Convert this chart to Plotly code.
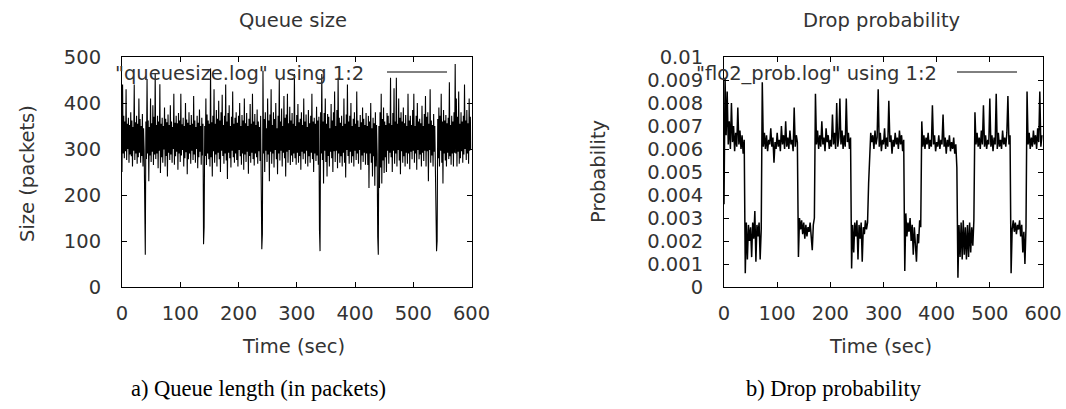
import plotly.graph_objects as go

W, H = 1066, 409

# ---- data ----
# queue log sampled every 1 s
time_q = list(range(0, 600))
queue_size = [
    250, 440, 290, 372, 280, 360, 295, 430, 276, 355,
    300, 368, 270, 352, 288, 380, 284, 362, 262, 348,
    296, 440, 276, 358, 290, 372, 268, 355, 282, 410,
    292, 365, 270, 350, 285, 376, 262, 345, 300, 120,
    70, 360, 278, 452, 290, 362, 230, 348, 286, 410,
    272, 356, 294, 395, 265, 370, 288, 463, 278, 352,
    290, 372, 258, 360, 296, 441, 248, 355, 282, 368,
    270, 350, 299, 390, 262, 366, 285, 358, 240, 375,
    292, 352, 276, 395, 288, 360, 270, 348, 300, 420,
    266, 357, 284, 372, 294, 356, 255, 378, 290, 362,
    272, 420, 286, 354, 298, 368, 262, 350, 280, 400,
    293, 364, 245, 357, 278, 380, 290, 352, 268, 374,
    296, 355, 276, 415, 288, 362, 270, 348, 300, 372,
    258, 357, 282, 386, 294, 350, 266, 368, 286, 355,
    93, 130, 350, 285, 410, 265, 375, 290, 362, 278,
    355, 262, 475, 282, 358, 240, 372, 295, 430, 270,
    355, 288, 385, 262, 366, 292, 405, 278, 362, 250,
    380, 296, 418, 285, 352, 268, 372, 290, 440, 275,
    360, 235, 378, 292, 395, 280, 350, 260, 370, 296,
    425, 282, 355, 270, 368, 290, 380, 276, 357, 262,
    372, 298, 400, 284, 350, 266, 374, 290, 362, 255,
    410, 288, 356, 272, 378, 294, 350, 246, 366, 285,
    398, 270, 355, 292, 420, 278, 360, 264, 376, 290,
    352, 282, 386, 268, 360, 295, 348, 274, 372, 200,
    82, 115, 470, 290, 365, 250, 380, 296, 345, 272,
    410, 288, 362, 230, 375, 294, 430, 268, 352, 290,
    380, 260, 365, 298, 400, 278, 345, 245, 372, 290,
    450, 275, 360, 296, 388, 262, 350, 292, 415, 280,
    368, 240, 375, 294, 420, 270, 356, 298, 392, 265,
    362, 286, 378, 272, 355, 290, 463, 280, 350, 266,
    374, 292, 398, 270, 358, 285, 366, 255, 380, 294,
    352, 278, 410, 290, 360, 268, 375, 296, 348, 262,
    385, 284, 356, 270, 372, 292, 420, 278, 360, 250,
    368, 290, 355, 274, 392, 286, 362, 266, 370, 125,
    78, 380, 290, 463, 276, 360, 225, 378, 296, 410,
    272, 355, 240, 376, 285, 370, 262, 345, 294, 398,
    280, 362, 250, 380, 295, 425, 272, 350, 296, 385,
    258, 455, 290, 368, 270, 357, 284, 372, 262, 350,
    292, 410, 270, 355, 238, 375, 298, 440, 285, 360,
    268, 372, 294, 400, 270, 350, 284, 366, 262, 380,
    296, 355, 276, 425, 290, 362, 268, 348, 298, 374,
    255, 358, 286, 390, 272, 366, 292, 352, 266, 378,
    290, 350, 265, 372, 215, 360, 290, 400, 270, 345,
    240, 368, 284, 356, 220, 380, 262, 352, 290, 110,
    70, 350, 215, 380, 260, 420, 225, 365, 275, 390,
    248, 360, 282, 352, 250, 378, 296, 372, 268, 356,
    292, 455, 282, 352, 250, 378, 296, 432, 268, 360,
    290, 455, 262, 355, 298, 410, 275, 368, 245, 380,
    295, 360, 270, 390, 284, 356, 262, 374, 292, 350,
    268, 420, 290, 362, 256, 372, 294, 352, 278, 385,
    296, 420, 270, 350, 290, 372, 255, 400, 298, 360,
    278, 366, 288, 356, 262, 394, 292, 350, 274, 376,
    296, 415, 262, 370, 295, 380, 230, 355, 298, 430,
    270, 362, 286, 352, 262, 376, 294, 350, 268, 200,
    78, 100, 365, 280, 390, 262, 372, 296, 420, 270,
    360, 225, 385, 290, 362, 275, 374, 262, 356, 292,
    368, 278, 445, 284, 352, 266, 372, 290, 360, 262,
    380, 292, 485, 290, 410, 262, 370, 294, 425, 268,
    355, 280, 380, 295, 360, 270, 372, 288, 440, 300,
    362, 276, 385, 290, 356, 268, 410, 296, 370, 300,
]

# drop-probability log sampled every 2 s
time_p = list(range(0, 600, 2))
drop_prob = [
    0.0036, 0.0091, 0.0066, 0.0085, 0.0062, 0.0072, 0.0060, 0.0080, 0.0063, 0.0070,
    0.0059, 0.0067, 0.0061, 0.0078, 0.0062, 0.0068, 0.0060, 0.0066, 0.0058, 0.0064,
    0.0006, 0.0028, 0.0012, 0.0027, 0.0020, 0.0026, 0.0013, 0.0028, 0.0021, 0.0033,
    0.0011, 0.0027, 0.0022, 0.0028, 0.0012, 0.0025, 0.0089, 0.0061, 0.0067, 0.0060,
    0.0066, 0.0059, 0.0064, 0.0062, 0.0069, 0.0061, 0.0065, 0.0054, 0.0063, 0.0060,
    0.0067, 0.0061, 0.0064, 0.0059, 0.0070, 0.0062, 0.0066, 0.0060, 0.0072, 0.0061,
    0.0065, 0.0060, 0.0068, 0.0062, 0.0064, 0.0059, 0.0078, 0.0061, 0.0066, 0.0063,
    0.0013, 0.0030, 0.0025, 0.0029, 0.0023, 0.0028, 0.0021, 0.0027, 0.0022, 0.0026,
    0.0024, 0.0028, 0.0022, 0.0016, 0.0027, 0.0030, 0.0084, 0.0062, 0.0068, 0.0060,
    0.0066, 0.0061, 0.0072, 0.0062, 0.0065, 0.0059, 0.0069, 0.0063, 0.0066, 0.0060,
    0.0064, 0.0061, 0.0075, 0.0062, 0.0067, 0.0060, 0.0080, 0.0061, 0.0065, 0.0082,
    0.0062, 0.0068, 0.0060, 0.0066, 0.0061, 0.0082, 0.0063, 0.0067, 0.0060, 0.0065,
    0.0008, 0.0027, 0.0015, 0.0028, 0.0022, 0.0029, 0.0012, 0.0027, 0.0021, 0.0028,
    0.0011, 0.0026, 0.0023, 0.0029, 0.0025, 0.0028, 0.0045, 0.0061, 0.0067, 0.0063,
    0.0066, 0.0060, 0.0068, 0.0062, 0.0065, 0.0086, 0.0061, 0.0067, 0.0059, 0.0064,
    0.0062, 0.0069, 0.0060, 0.0065, 0.0061, 0.0081, 0.0063, 0.0066, 0.0058, 0.0064,
    0.0061, 0.0067, 0.0062, 0.0065, 0.0060, 0.0068, 0.0062, 0.0066, 0.0059, 0.0064,
    0.0007, 0.0032, 0.0022, 0.0028, 0.0024, 0.0030, 0.0020, 0.0027, 0.0014, 0.0026,
    0.0018, 0.0011, 0.0023, 0.0019, 0.0029, 0.0026, 0.0072, 0.0061, 0.0066, 0.0060,
    0.0065, 0.0062, 0.0067, 0.0060, 0.0064, 0.0061, 0.0079, 0.0062, 0.0066, 0.0059,
    0.0063, 0.0061, 0.0066, 0.0060, 0.0064, 0.0062, 0.0075, 0.0061, 0.0065, 0.0058,
    0.0064, 0.0061, 0.0066, 0.0059, 0.0063, 0.0060, 0.0065, 0.0058, 0.0062, 0.0052,
    0.0004, 0.0027, 0.0013, 0.0028, 0.0012, 0.0029, 0.0014, 0.0026, 0.0012, 0.0027,
    0.0013, 0.0028, 0.0015, 0.0026, 0.0018, 0.0029, 0.0076, 0.0062, 0.0067, 0.0061,
    0.0065, 0.0060, 0.0068, 0.0062, 0.0079, 0.0061, 0.0066, 0.0060, 0.0064, 0.0062,
    0.0082, 0.0061, 0.0066, 0.0059, 0.0065, 0.0062, 0.0084, 0.0060, 0.0067, 0.0061,
    0.0064, 0.0060, 0.0068, 0.0062, 0.0065, 0.0061, 0.0067, 0.0083, 0.0062, 0.0066,
    0.0006, 0.0025, 0.0029, 0.0024, 0.0028, 0.0023, 0.0027, 0.0025, 0.0029, 0.0022,
    0.0027, 0.0015, 0.0024, 0.0010, 0.0026, 0.0085, 0.0062, 0.0067, 0.0060, 0.0065,
    0.0061, 0.0068, 0.0062, 0.0066, 0.0060, 0.0069, 0.0063, 0.0085, 0.0061, 0.0066,
]

time_ticks = [0, 100, 200, 300, 400, 500, 600]
queue_ticks = [0, 100, 200, 300, 400, 500]
prob_ticks = [0, 0.001, 0.002, 0.003, 0.004, 0.005, 0.006, 0.007, 0.008, 0.009, 0.01]
prob_tick_text = ["0", "0.001", "0.002", "0.003", "0.004", "0.005", "0.006",
                  "0.007", "0.008", "0.009", "0.01"]

titles = ["Queue size", "Drop probability"]
y_titles = ["Size (packets)", "Probability"]
x_title = "Time (sec)"
captions = ["a) Queue length (in packets)", "b) Drop probability"]
legend_names = ['"queuesize.log" using 1:2', '"flo2_prob.log" using 1:2']

# ---- layout helpers (pixel -> paper) ----
def px(x):
    return x / W

def py(y):
    return 1 - y / H

FONT = "DejaVu Sans"
TXT = "#333333"
FS = 19.5

L1, R1 = 122, 471.5
L2, R2 = 724, 1043
TOP, BOT = 57, 287

fig = go.Figure()
fig.add_trace(go.Scatter(x=time_q, y=queue_size, mode="lines",
                         line=dict(color="black", width=1.1),
                         xaxis="x", yaxis="y", showlegend=False))
fig.add_trace(go.Scatter(x=time_p, y=drop_prob, mode="lines",
                         line=dict(color="black", width=1.5),
                         xaxis="x2", yaxis="y2", showlegend=False))

axis_common = dict(showline=True, linecolor="black", linewidth=1, mirror="allticks",
                   ticks="inside", ticklen=5, tickcolor="black", tickwidth=1,
                   showgrid=False, zeroline=False, automargin=False,
                   tickfont=dict(family=FONT, size=FS, color=TXT))

fig.update_layout(
    width=W, height=H, autosize=False,
    margin=dict(l=0, r=0, t=0, b=0, pad=0, autoexpand=False),
    paper_bgcolor="white", plot_bgcolor="white",
    showlegend=False,
    xaxis=dict(domain=[px(L1), px(R1)], range=[0, 600], tickvals=time_ticks,
               anchor="y", ticklabelstandoff=9, **axis_common),
    yaxis=dict(domain=[py(BOT), py(TOP)], range=[0, 500], tickvals=queue_ticks,
               anchor="x", ticklabelstandoff=16, **axis_common),
    xaxis2=dict(domain=[px(L2), px(R2)], range=[0, 600], tickvals=time_ticks,
                anchor="y2", ticklabelstandoff=9, **axis_common),
    yaxis2=dict(domain=[py(BOT), py(TOP)], range=[0, 0.01], tickvals=prob_ticks,
                ticktext=prob_tick_text, anchor="x2", ticklabelstandoff=16, **axis_common),
)

ann = []
def text(x, y, s, size=FS, family=FONT, color=TXT, xanchor="center", angle=0):
    ann.append(dict(x=px(x), y=py(y), xref="paper", yref="paper", text=s,
                    showarrow=False, xanchor=xanchor, yanchor="middle",
                    textangle=angle, font=dict(family=family, size=size, color=color)))

# titles
text(293, 21, titles[0])
text(881, 21, titles[1])
# axis titles
text(293, 346, x_title)
text(880, 346, x_title)
text(27, 174, y_titles[0], angle=-90)
text(599, 172, y_titles[1], angle=-90)
# captions
text(258, 388, captions[0], size=22.5, family="Liberation Serif", color="black")
text(834, 388, captions[1], size=22.5, family="Liberation Serif", color="black")
# legend keys
text(366, 73, legend_names[0], xanchor="right")
text(939, 73, legend_names[1], xanchor="right")
fig.update_layout(annotations=ann)

for x0, x1 in [(387, 447), (957, 1017)]:
    fig.add_shape(type="line", xref="paper", yref="paper",
                  x0=px(x0), x1=px(x1), y0=py(72), y1=py(72),
                  line=dict(color="black", width=1))

fig.write_html("out.html",
               config={"displayModeBar": False, "staticPlot": True},
               post_script="document.body.style.margin='0px';document.body.style.padding='0px';")
